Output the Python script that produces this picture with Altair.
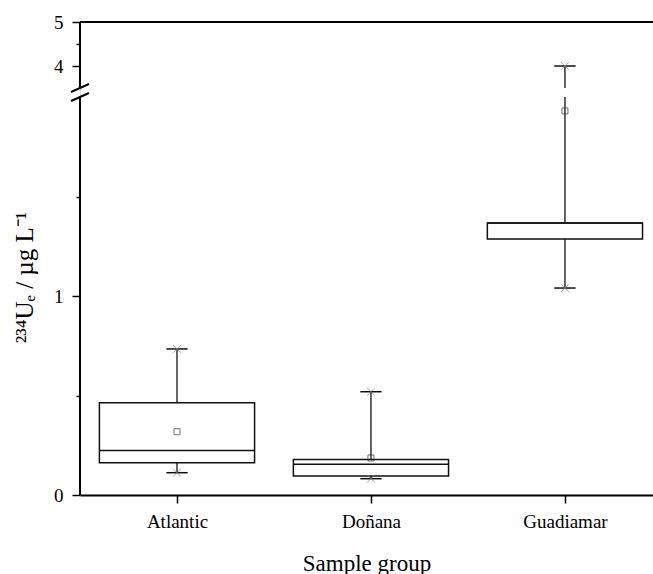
import json
import altair as alt
import pandas as pd

# ---- data ----
groups = ["Atlantic", "Doñana", "Guadiamar"]
positions = [0, 1, 2]
mins = [0.112, 0.082, 1.04]
q1s = [0.162, 0.095, 1.286]
medians = [0.223, 0.154, 1.367]
q3s = [0.464, 0.179, 1.367]
maxs = [0.734, 0.519, 4.0]
means = [0.318, 0.186, 1.93]

y_ticks = [0, 0.5, 1, 1.5, 4, 4.5, 5]
break_lo, break_hi = 2.0, 3.5
y_top = 5
x_lo, x_hi = -0.5, 2.454
half_box = 0.4
half_cap = 0.055

FONT = "Liberation Serif"
W, H = 573, 473

df = pd.DataFrame(dict(group=groups, pos=positions, lo=mins, q1=q1s, med=medians,
                       q3=q3s, hi=maxs, mean=means))

xscale = alt.Scale(domain=[x_lo, x_hi], nice=False, zero=False)
yscale = alt.Scale(domain=[0, break_lo, break_hi, y_top], range=[H, 75, 66, 0],
                   nice=False, zero=False)

label_js = json.dumps(groups, ensure_ascii=False)
xaxis = alt.Axis(values=positions, labelExpr=f"{label_js}[datum.value]", title="Sample group",
                 grid=False, domainWidth=2, domainColor="black", tickColor="black",
                 tickWidth=1.5, tickSize=8, labelFontSize=19, labelPadding=9,
                 titleFontSize=23, titleFontWeight="normal", titlePadding=21,
                 labelFont=FONT, titleFont=FONT, labelColor="black", titleColor="black")
yaxis = alt.Axis(values=y_ticks, labelExpr="datum.value % 1 === 0 ? datum.label : ''",
                 title="²³⁴Uₑ / µg L⁻¹", grid=False, domain=False, tickColor="black",
                 tickWidth=1.5,
                 tickSize={"condition": {"test": "datum.value % 1 === 0", "value": 8}, "value": 4},
                 labelFontSize=19, labelPadding=9, titleFontSize=25, titleFontWeight="normal",
                 titleX=-56, titleY=255, titleAngle=270, titleAlign="center", titleBaseline="middle",
                 labelFont=FONT, titleFont=FONT, labelColor="black", titleColor="black")

base = alt.Chart(df)
X = alt.X("pos:Q", scale=xscale, axis=xaxis)

whisk_col = "#333333"

lower_whisker = base.mark_rule(color=whisk_col, strokeWidth=1.5).encode(
    x=X, y=alt.Y("lo:Q", scale=yscale, axis=yaxis), y2="q1:Q")
upper_whisker1 = base.transform_calculate(top=f"min(datum.hi, {break_lo})").mark_rule(
    color=whisk_col, strokeWidth=1.5).encode(
    x=X, y=alt.Y("q3:Q", scale=yscale, axis=yaxis), y2="top:Q")
upper_whisker2 = base.transform_filter(f"datum.hi > {break_hi}").transform_calculate(
    bot=f"{break_hi}").mark_rule(color=whisk_col, strokeWidth=1.5).encode(
    x=X, y=alt.Y("bot:Q", scale=yscale, axis=yaxis), y2="hi:Q")

boxes = base.transform_calculate(
    bx0=f"datum.pos - {half_box}", bx1=f"datum.pos + {half_box}").mark_rect(
    fill="white", stroke="#111111", strokeWidth=1.5).encode(
    x=alt.X("bx0:Q", scale=xscale, axis=xaxis), x2="bx1:Q",
    y=alt.Y("q1:Q", scale=yscale, axis=yaxis), y2="q3:Q")

median_line = base.transform_calculate(
    bx0=f"datum.pos - {half_box}", bx1=f"datum.pos + {half_box}").mark_rule(
    color="#111111", strokeWidth=1.5).encode(
    x=alt.X("bx0:Q", scale=xscale, axis=xaxis), x2="bx1:Q",
    y=alt.Y("med:Q", scale=yscale, axis=yaxis))

caps_long = base.transform_fold(["lo", "hi"], as_=["kind", "val"]).transform_calculate(
    c0=f"datum.pos - {half_cap}", c1=f"datum.pos + {half_cap}")
caps = caps_long.mark_rule(color="#111111", strokeWidth=1.5).encode(
    x=alt.X("c0:Q", scale=xscale, axis=xaxis), x2="c1:Q",
    y=alt.Y("val:Q", scale=yscale, axis=yaxis))

crosses = base.transform_fold(["lo", "hi"], as_=["kind", "val"]).mark_point(
    shape="M-1,-1L1,1M-1,1L1,-1", size=60, color="#888888", strokeWidth=1, filled=False).encode(
    x=X, y=alt.Y("val:Q", scale=yscale, axis=yaxis))

mean_pts = base.mark_square(size=36, filled=False, color="#333333", strokeWidth=1).encode(
    x=X, y=alt.Y("mean:Q", scale=yscale, axis=yaxis))

# frame: broken left axis line, top line, break marks
seg_df = pd.DataFrame({"x": [x_lo, x_lo], "y0": [0, break_hi], "y1": [break_lo, y_top]})
left_line = alt.Chart(seg_df).mark_rule(color="black", strokeWidth=2).encode(
    x=alt.X("x:Q", scale=xscale, axis=xaxis),
    y=alt.Y("y0:Q", scale=yscale, axis=yaxis), y2="y1:Q")

top_df = pd.DataFrame({"x0": [x_lo], "x1": [x_hi], "y": [y_top]})
top_line = alt.Chart(top_df).mark_rule(color="black", strokeWidth=2).encode(
    x=alt.X("x0:Q", scale=xscale, axis=xaxis), x2="x1:Q",
    y=alt.Y("y:Q", scale=yscale, axis=yaxis))

brk_df = pd.DataFrame({"x": [x_lo, x_lo], "y": [break_lo, break_hi]})
break_marks = alt.Chart(brk_df).mark_rule(
    color="black", strokeWidth=2, xOffset=-9, x2Offset=9, yOffset=4, y2Offset=-4).encode(
    x=alt.X("x:Q", scale=xscale, axis=xaxis), x2="x:Q",
    y=alt.Y("y:Q", scale=yscale, axis=yaxis), y2="y:Q")

chart = alt.layer(
    lower_whisker, upper_whisker1, upper_whisker2, boxes, median_line, caps,
    crosses, mean_pts, left_line, top_line, break_marks
).properties(
    width=W, height=H,
    autosize=alt.AutoSizeParams(type="none"),
    padding={"left": 80, "top": 22, "right": 0, "bottom": 79},
).configure_view(stroke=None).configure(
    background="white", font=FONT
).configure_axis(labelFont=FONT, titleFont=FONT)

chart.save("out.html", embed_options={"renderer": "svg", "actions": False})
